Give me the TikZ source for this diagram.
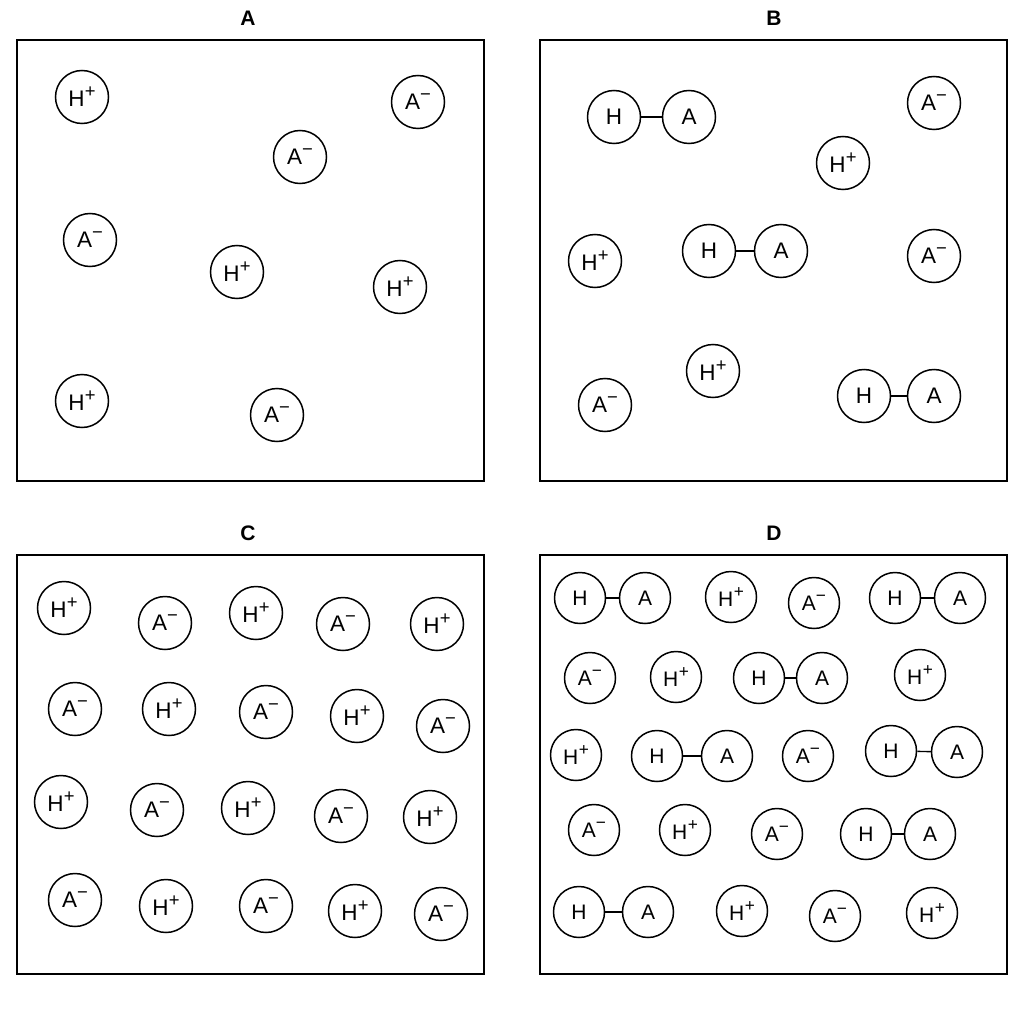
\documentclass[tikz,border=0pt]{standalone}
\usepackage{fontspec}
\setmainfont{Liberation Sans}
\newcommand{\supch}[1]{\raisebox{0.40em}{\scalebox{0.82}{#1}}}
\newcommand{\Hp}{H\kern0.02em\supch{+}}
\newcommand{\Am}{A\supch{−}}
\begin{document}
\begin{tikzpicture}[x=1pt,y=-1pt,
  panel/.style={draw, line width=1.8pt},
  ttl/.style={font=\fontsize{21}{21}\selectfont\bfseries},
  ion/.style={circle, draw, line width=1.5pt, minimum size=53pt, inner sep=0pt, font=\fontsize{22.5}{22.5}\selectfont},
  ionD/.style={ion, minimum size=51pt, font=\fontsize{21}{21}\selectfont},
  bond/.style={line width=1.4pt}]
\useasboundingbox[fill=white] (0,0) rectangle (1024,1024);
% panels
\draw[panel] (17,40) rectangle (484,481);
\draw[panel] (540,40) rectangle (1007,481);
\draw[panel] (17,555) rectangle (484,974);
\draw[panel] (540,555) rectangle (1007,974);
\node[ttl] (tA) at (248,18) {A};
\node[ttl] (tB) at (774,18) {B};
\node[ttl] (tC) at (248,533) {C};
\node[ttl] (tD) at (774,533) {D};
% Panel A
\node[ion] (a1) at (82,97) {\Hp};
\node[ion] (a2) at (418,102) {\Am};
\node[ion] (a3) at (300,157) {\Am};
\node[ion] (a4) at (90,240) {\Am};
\node[ion] (a5) at (237,272) {\Hp};
\node[ion] (a6) at (400,287) {\Hp};
\node[ion] (a7) at (82,401) {\Hp};
\node[ion] (a8) at (277,415) {\Am};
% Panel B
\node[ion] (b1h) at (614,117) {H};
\node[ion] (b1a) at (689,117) {A};
\draw[bond] (b1h) -- (b1a);
\node[ion] (b2) at (934,103) {\Am};
\node[ion] (b3) at (843,163) {\Hp};
\node[ion] (b4) at (595,261) {\Hp};
\node[ion] (b5h) at (709,251) {H};
\node[ion] (b5a) at (781,251) {A};
\draw[bond] (b5h) -- (b5a);
\node[ion] (b6) at (934,256) {\Am};
\node[ion] (b7) at (713,371) {\Hp};
\node[ion] (b8) at (605,405) {\Am};
\node[ion] (b9h) at (864,396) {H};
\node[ion] (b9a) at (934,396) {A};
\draw[bond] (b9h) -- (b9a);
% Panel C
\node[ion] (c1) at (64,608) {\Hp};
\node[ion] (c2) at (165,623) {\Am};
\node[ion] (c3) at (256,613) {\Hp};
\node[ion] (c4) at (343,624) {\Am};
\node[ion] (c5) at (437,624) {\Hp};
\node[ion] (c6) at (75,709) {\Am};
\node[ion] (c7) at (169,709) {\Hp};
\node[ion] (c8) at (266,712) {\Am};
\node[ion] (c9) at (357,716) {\Hp};
\node[ion] (c10) at (443,726) {\Am};
\node[ion] (c11) at (61,802) {\Hp};
\node[ion] (c12) at (157,810) {\Am};
\node[ion] (c13) at (248,808) {\Hp};
\node[ion] (c14) at (341,816) {\Am};
\node[ion] (c15) at (430,817) {\Hp};
\node[ion] (c16) at (75,900) {\Am};
\node[ion] (c17) at (166,906) {\Hp};
\node[ion] (c18) at (266,906) {\Am};
\node[ion] (c19) at (355,911) {\Hp};
\node[ion] (c20) at (441,914) {\Am};
% Panel D
\node[ionD] (d1h) at (580,598) {H};
\node[ionD] (d1a) at (645,598) {A};
\draw[bond] (d1h) -- (d1a);
\node[ionD] (d2) at (731,597) {\Hp};
\node[ionD] (d3) at (814,603) {\Am};
\node[ionD] (d4h) at (895,598) {H};
\node[ionD] (d4a) at (960,598) {A};
\draw[bond] (d4h) -- (d4a);
\node[ionD] (d5) at (590,678) {\Am};
\node[ionD] (d6) at (676,677) {\Hp};
\node[ionD] (d7h) at (759,678) {H};
\node[ionD] (d7a) at (822,678) {A};
\draw[bond] (d7h) -- (d7a);
\node[ionD] (d8) at (920,675) {\Hp};
\node[ionD] (d9) at (576,755) {\Hp};
\node[ionD] (d10h) at (657,756) {H};
\node[ionD] (d10a) at (727,756) {A};
\draw[bond] (d10h) -- (d10a);
\node[ionD] (d11) at (808,756) {\Am};
\node[ionD] (d12h) at (891,751) {H};
\node[ionD] (d12a) at (957,752) {A};
\draw[bond] (d12h) -- (d12a);
\node[ionD] (d13) at (594,830) {\Am};
\node[ionD] (d14) at (685,830) {\Hp};
\node[ionD] (d15) at (777,834) {\Am};
\node[ionD] (d16h) at (866,834) {H};
\node[ionD] (d16a) at (930,834) {A};
\draw[bond] (d16h) -- (d16a);
\node[ionD] (d17h) at (579,912) {H};
\node[ionD] (d17a) at (648,912) {A};
\draw[bond] (d17h) -- (d17a);
\node[ionD] (d18) at (742,911) {\Hp};
\node[ionD] (d19) at (835,916) {\Am};
\node[ionD] (d20) at (932,913) {\Hp};
\end{tikzpicture}
\end{document}
